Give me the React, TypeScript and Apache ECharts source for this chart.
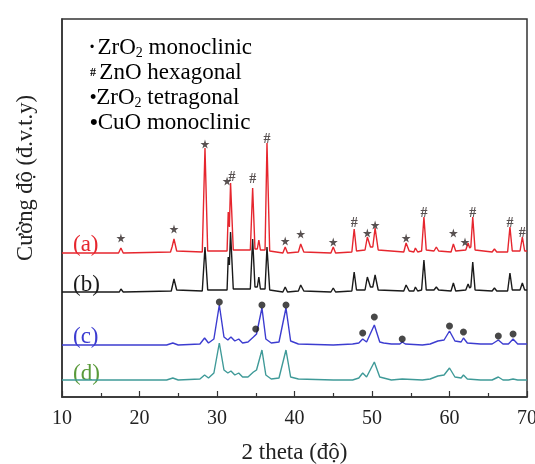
import React, { useEffect, useRef } from "react";
import * as echarts from "echarts";

// 2θ (degrees) vs intensity (arbitrary units, offset per pattern as drawn)
const seriesA: number[][] = [
  [10, 144], [17.3, 144], [17.6, 149], [17.9, 144], [24.0, 145], [24.2, 150], [24.45, 158], [24.8, 146],
  [28.1, 145], [28.45, 249], [28.8, 146], [31.3, 146], [31.45, 185], [31.6, 170], [31.75, 214], [32.1, 147],
  [34.3, 147], [34.6, 209], [34.9, 148], [35.2, 148], [35.4, 157], [35.6, 147], [36.2, 147], [36.45, 254],
  [36.8, 146], [38.5, 144], [38.8, 150], [39.1, 144], [40.5, 145], [40.8, 153], [41.2, 145], [44.7, 144],
  [45.0, 150], [45.3, 144], [47.4, 145], [47.7, 168], [48.0, 146], [49.1, 147], [49.4, 160], [49.8, 150],
  [50.1, 150], [50.4, 169], [50.8, 147], [54.1, 145], [54.4, 154], [54.8, 146], [55.4, 145], [55.6, 149],
  [55.9, 145], [56.4, 146], [56.7, 180], [57.0, 147], [58.0, 146], [58.3, 150], [58.6, 146], [60.2, 145],
  [60.5, 153], [60.8, 146], [62.1, 147], [62.4, 154], [62.6, 149], [62.75, 150], [63.0, 180], [63.3, 147],
  [65.5, 145], [65.8, 148], [66.1, 145], [67.5, 145], [67.8, 170], [68.1, 146], [69.1, 146], [69.4, 160],
  [69.7, 146], [70, 146],
];
const seriesB: number[][] = [
  [10, 105], [17.4, 105], [17.6, 108], [17.9, 105], [24.1, 106], [24.45, 118], [24.8, 107], [28.1, 106],
  [28.45, 150], [28.8, 107], [31.3, 107], [31.45, 140], [31.6, 132], [31.75, 165], [32.1, 108], [34.3, 108],
  [34.6, 158], [34.9, 110], [35.2, 110], [35.4, 120], [35.6, 108], [36.2, 108], [36.45, 150], [36.8, 107],
  [38.5, 105], [38.8, 110], [39.1, 105], [40.5, 106], [40.8, 112], [41.2, 106], [44.7, 105], [45.0, 109],
  [45.3, 105], [47.4, 106], [47.7, 125], [48.0, 107], [49.1, 107], [49.4, 120], [49.8, 110], [50.1, 110],
  [50.4, 122], [50.8, 107], [54.1, 106], [54.4, 112], [54.8, 106], [55.4, 106], [55.6, 110], [55.9, 106],
  [56.4, 107], [56.7, 137], [57.0, 107], [58.0, 107], [58.3, 110], [58.6, 107], [60.2, 106], [60.5, 114],
  [60.8, 106], [62.1, 107], [62.4, 113], [62.6, 109], [62.75, 110], [63.0, 135], [63.3, 107], [65.5, 106],
  [65.8, 109], [66.1, 106], [67.5, 106], [67.8, 124], [68.1, 107], [69.1, 107], [69.4, 114], [69.7, 107],
  [70, 107],
];
const seriesC: number[][] = [
  [10, 52], [23.5, 52], [24.3, 54], [25, 52], [27.8, 53], [28.4, 59], [28.9, 54], [29.6, 58], [30.3, 92],
  [30.9, 60], [31.4, 57], [31.8, 60], [32.3, 56], [32.8, 58], [33.3, 54], [34.0, 55], [34.7, 60], [35.1, 63],
  [35.8, 89], [36.3, 58], [37.0, 54], [38.0, 55], [38.9, 89], [39.5, 56], [40.5, 53], [45, 52], [47.5, 53],
  [48.3, 54], [48.8, 58], [49.3, 55], [50.3, 72], [51.0, 55], [51.5, 54], [52.5, 53], [53.6, 53], [53.9, 55],
  [54.3, 53], [56.5, 52], [57.5, 53], [58.5, 56], [59.3, 57], [60.0, 66], [60.7, 56], [61.5, 55], [61.8, 59],
  [62.3, 54], [64, 53], [65.5, 53], [66.3, 57], [66.9, 53], [67.6, 53], [68.2, 58], [68.8, 53], [70, 53],
];
const seriesD: number[][] = [
  [10, 17], [23.5, 17], [24.3, 19], [25, 17], [27.8, 18], [28.4, 22], [28.9, 19], [29.6, 24], [30.3, 54],
  [30.9, 27], [31.4, 24], [31.8, 26], [32.3, 22], [32.8, 24], [33.3, 20], [34.0, 20], [34.7, 25], [35.1, 27],
  [35.8, 47], [36.3, 22], [37.0, 18], [38.0, 19], [38.9, 47], [39.5, 20], [40.5, 18], [45, 17], [47.5, 17],
  [48.3, 19], [48.8, 24], [49.3, 20], [50.3, 35], [51.0, 20], [51.5, 19], [52.5, 17], [53.9, 18], [56.5, 17],
  [57.5, 18], [58.5, 21], [59.3, 22], [60.0, 29], [60.7, 20], [61.5, 19], [61.8, 22], [62.3, 18], [64, 17],
  [65.5, 17], [66.3, 20], [66.9, 17], [67.6, 17], [68.2, 18], [68.8, 17], [70, 17],
];

// phase markers [2θ, height]
const zro2MonoMarks: number[][] = [
  [17.6, 159], [24.45, 168], [28.45, 253], [31.3, 216], [38.8, 156], [40.8, 163], [45.0, 155],
  [49.4, 164], [50.4, 172], [54.4, 159], [60.5, 164], [62.0, 155],
];
const znoHexMarks: number[][] = [
  [31.95, 221], [34.6, 219], [36.45, 259], [47.7, 175], [56.7, 185], [63.0, 185], [67.8, 175], [69.4, 165],
];
const zro2TetMarks: number[][] = [[30.3, 95], [35.0, 68], [50.3, 80], [60.0, 71]];
const cuoMarks: number[][] = [[35.8, 92], [38.9, 92], [48.8, 64], [53.9, 58], [61.8, 65], [66.3, 61], [68.2, 63]];

const xTicks = [10, 20, 30, 40, 50, 60, 70];
const curveLabels = ["(a)", "(b)", "(c)", "(d)"];

const FONT = "Liberation Serif";
const STAR = "path://M50,0 L61,35 98,35 68,57 79,91 50,70 21,91 32,57 2,35 39,35Z";

export default function App() {
  const ref = useRef<HTMLDivElement>(null);
  useEffect(() => {
    const chart = echarts.init(ref.current!, null, { renderer: "svg" });
    const line = (name: string, data: number[][], color: string, z: number) => ({
      name,
      type: "line",
      data,
      symbol: "none",
      z,
      lineStyle: { color, width: 1.4 },
    });
    const markColor = "#2e2626";
    const rich = {
      m: { fontFamily: FONT, fontSize: 23, color: "#222", lineHeight: 25 },
      s: { fontFamily: FONT, fontSize: 14, color: "#222", lineHeight: 5, verticalAlign: "bottom" },
      d1: { fontSize: 12, color: "#222", lineHeight: 25 },
      h: { fontFamily: FONT, fontSize: 12, fontWeight: "bold", color: "#222", lineHeight: 25 },
      d2: { fontSize: 18, color: "#222", lineHeight: 25 },
      d3: { fontSize: 22, color: "#222", lineHeight: 25 },
    };
    const labColors = ["#e6262e", "#1a1a1a", "#3c3cd0", "#5a9a3a"];
    const labY = [243, 283, 335, 372];
    chart.setOption({
      animation: false,
      grid: {
        left: 62, right: 8, top: 19, bottom: 67, show: true, borderColor: "#333", borderWidth: 1.5,
        outerBoundsMode: "none", containLabel: false,
      },
      xAxis: {
        type: "value",
        min: xTicks[0],
        max: xTicks[xTicks.length - 1],
        interval: 10,
        name: "2 theta (độ)",
        nameLocation: "middle",
        nameGap: 43,
        nameTextStyle: { fontFamily: FONT, fontSize: 23, color: "#222" },
        axisLine: { lineStyle: { color: "#333", width: 1.5 } },
        axisTick: { inside: true, length: 6, lineStyle: { color: "#333", width: 1.2 } },
        minorTick: { show: true, splitNumber: 2, length: 4, lineStyle: { color: "#333", width: 1.2 } },
        axisLabel: { fontFamily: FONT, fontSize: 20, color: "#222", margin: 10 },
        splitLine: { show: false },
      },
      yAxis: {
        type: "value",
        min: 0,
        max: 378,
        axisLine: { show: true, lineStyle: { color: "#333", width: 1.5 } },
        axisTick: { show: false },
        axisLabel: { show: false },
        splitLine: { show: false },
      },
      series: [
        line("d", seriesD, "#3f9a98", 2),
        line("c", seriesC, "#3c3cd0", 3),
        line("b", seriesB, "#1a1a1a", 4),
        line("a", seriesA, "#e6262e", 5),
        {
          type: "scatter", z: 10, data: zro2MonoMarks, symbol: STAR, symbolSize: 9,
          itemStyle: { color: markColor },
        },
        {
          type: "scatter", z: 10, data: znoHexMarks, symbol: "circle", symbolSize: 1,
          itemStyle: { color: "rgba(0,0,0,0)" },
          label: {
            show: true, position: "inside", formatter: "#", fontFamily: FONT,
            fontSize: 14, fontWeight: "bold", color: markColor,
          },
        },
        {
          type: "scatter", z: 10, data: zro2TetMarks, symbol: "circle", symbolSize: 7,
          itemStyle: { color: "#1a1a1a" },
        },
        {
          type: "scatter", z: 10, data: cuoMarks, symbol: "circle", symbolSize: 7,
          itemStyle: { color: "#1a1a1a" },
        },
      ],
      graphic: [
        {
          type: "text", x: 24, y: 178, rotation: Math.PI / 2,
          style: {
            text: "Cường độ (đ.v.t.y)", fontFamily: FONT, fontSize: 22.5, fill: "#222",
            align: "center", verticalAlign: "middle",
          },
        },
        {
          type: "text", x: 90, y: 34,
          style: {
            text: "{d1|•} {m|ZrO}{s|2}{m| monoclinic}\n{h|#} {m|ZnO hexagonal}\n{d2|•}{m|ZrO}{s|2}{m| tetragonal}\n{d3|•}{m|CuO monoclinic}",
            rich,
          },
        },
        ...curveLabels.map((t, i) => ({
          type: "text", x: 73, y: labY[i],
          style: {
            text: t, fontFamily: FONT, fontSize: 23, fill: labColors[i], verticalAlign: "middle",
          },
        })),
      ],
    });
    return () => chart.dispose();
  }, []);
  return <div ref={ref} style={{ position: "fixed", left: 0, top: 0, width: 535, height: 464 }} />;
}
